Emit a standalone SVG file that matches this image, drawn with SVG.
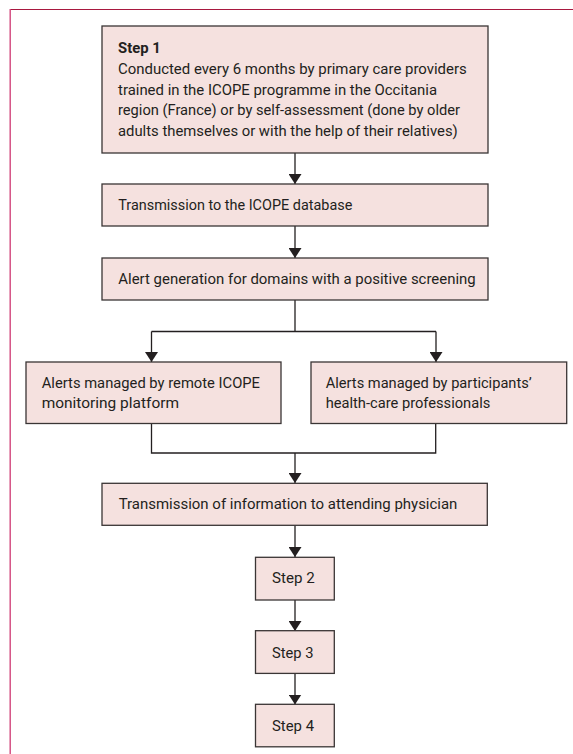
<svg xmlns="http://www.w3.org/2000/svg" width="573" height="754" viewBox="0 0 573 754">
<style>
.box{fill:#f5e1df;stroke:#3a3535;stroke-width:1.3}
.t{font-family:Roboto,"Noto Sans",sans-serif;font-size:15.5px;fill:#231f20}
.b{font-weight:bold}
.c{fill:none;stroke:#231f20;stroke-width:1.3}
</style>
<defs>
<marker id="ah" markerUnits="userSpaceOnUse" markerWidth="10" markerHeight="13" refX="10" refY="6.5" orient="auto" viewBox="0 0 10 13">
<path d="M0,0 L10,6.5 L0,13 z" fill="#231f20"/>
</marker>
</defs>
<rect width="573" height="754" fill="#ffffff"/>
<g id="frame">
<line x1="10" y1="9.5" x2="573" y2="9.5" stroke="#a8183f" stroke-width="1.2"/>
<line x1="10.2" y1="9" x2="10.2" y2="754" stroke="#d2467c" stroke-width="1.4"/>
</g>
<g id="connectors">
<line class="c" x1="295" y1="153" x2="295" y2="184" marker-end="url(#ah)"/>
<line class="c" x1="295" y1="226" x2="295" y2="258" marker-end="url(#ah)"/>
<polyline class="c" points="295,300 295,331.5"/>
<polyline class="c" points="151.5,331.5 436,331.5"/>
<line class="c" x1="151.5" y1="331.5" x2="151.5" y2="362" marker-end="url(#ah)"/>
<line class="c" x1="436" y1="331.5" x2="436" y2="362" marker-end="url(#ah)"/>
<polyline class="c" points="151.5,423.5 151.5,453 435.7,453 435.7,423.5"/>
<line class="c" x1="295" y1="453" x2="295" y2="483" marker-end="url(#ah)"/>
<line class="c" x1="295" y1="525.5" x2="295" y2="557" marker-end="url(#ah)"/>
<line class="c" x1="295" y1="600" x2="295" y2="631" marker-end="url(#ah)"/>
<line class="c" x1="295" y1="673.5" x2="295" y2="704.5" marker-end="url(#ah)"/>
</g>
<g id="step1">
<rect class="box" x="102" y="26" width="386" height="127"/>
<text class="t b" x="118" y="53" textLength="42.7" lengthAdjust="spacingAndGlyphs">Step 1</text>
<text class="t" x="118" y="74" textLength="348.7" lengthAdjust="spacingAndGlyphs">Conducted every 6 months by primary care providers</text>
<text class="t" x="118" y="94.5" textLength="319" lengthAdjust="spacingAndGlyphs">trained in the ICOPE programme in the Occitania</text>
<text class="t" x="118" y="115" textLength="342" lengthAdjust="spacingAndGlyphs">region (France) or by self-assessment (done by older</text>
<text class="t" x="118" y="135.5" textLength="339.7" lengthAdjust="spacingAndGlyphs">adults themselves or with the help of their relatives)</text>
</g>
<g id="transmission-db">
<rect class="box" x="102" y="184" width="386" height="42"/>
<text class="t" x="118.3" y="209.5" textLength="234" lengthAdjust="spacingAndGlyphs">Transmission to the ICOPE database</text>
</g>
<g id="alert-generation">
<rect class="box" x="102" y="258" width="386" height="42"/>
<text class="t" x="118.3" y="284.3" textLength="357.4" lengthAdjust="spacingAndGlyphs">Alert generation for domains with a positive screening</text>
</g>
<g id="alerts-remote">
<rect class="box" x="26" y="362" width="255" height="61.5"/>
<text class="t" x="41.7" y="387.5" textLength="218.3" lengthAdjust="spacingAndGlyphs">Alerts managed by remote ICOPE</text>
<text class="t" x="41.7" y="408.3" textLength="137.3" lengthAdjust="spacingAndGlyphs">monitoring platform</text>
</g>
<g id="alerts-professionals">
<rect class="box" x="311" y="362" width="255.7" height="61.5"/>
<text class="t" x="325.7" y="387.5" textLength="206" lengthAdjust="spacingAndGlyphs">Alerts managed by participants’</text>
<text class="t" x="325.7" y="408.3" textLength="164.6" lengthAdjust="spacingAndGlyphs">health-care professionals</text>
</g>
<g id="transmission-physician">
<rect class="box" x="102" y="483.3" width="385.3" height="42"/>
<text class="t" x="118.7" y="508.5" textLength="338.7" lengthAdjust="spacingAndGlyphs">Transmission of information to attending physician</text>
</g>
<g id="step2">
<rect class="box" x="255.5" y="557.3" width="78.8" height="42.7"/>
<text class="t" x="272" y="583" textLength="42.7" lengthAdjust="spacingAndGlyphs">Step 2</text>
</g>
<g id="step3">
<rect class="box" x="255.5" y="630.7" width="78.8" height="42.7"/>
<text class="t" x="272" y="657.5" textLength="41.5" lengthAdjust="spacingAndGlyphs">Step 3</text>
</g>
<g id="step4">
<rect class="box" x="255.5" y="704.3" width="78.8" height="42.5"/>
<text class="t" x="272" y="731.3" textLength="42" lengthAdjust="spacingAndGlyphs">Step 4</text>
</g>
</svg>
